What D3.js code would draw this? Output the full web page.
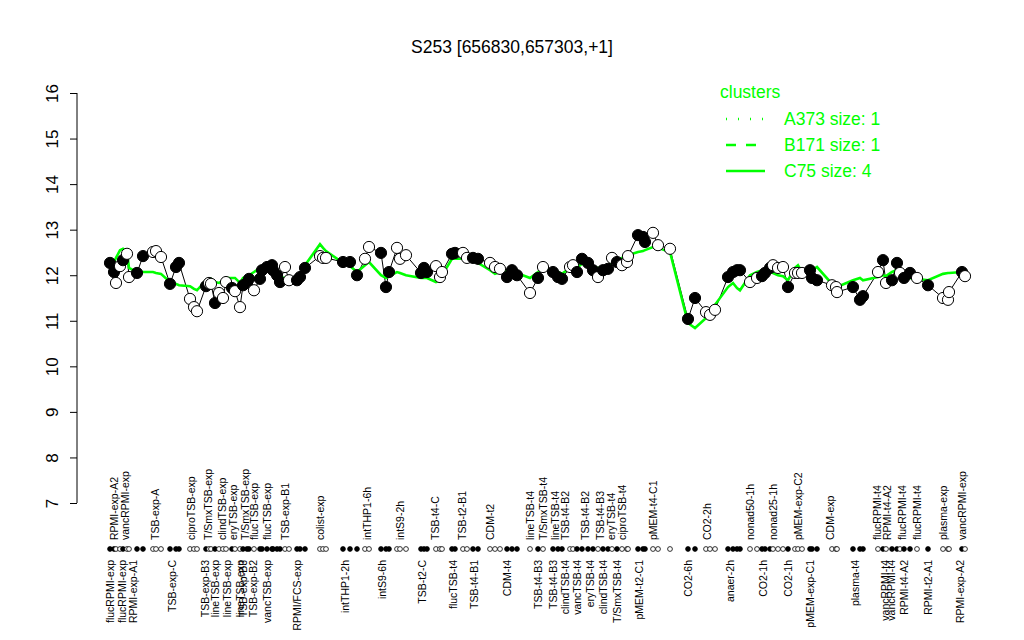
<!DOCTYPE html>
<html><head><meta charset="utf-8">
<script src="https://cdn.jsdelivr.net/npm/d3@7"></script>
<style>body{margin:0;background:#fff}svg{display:block}text{font-family:"Liberation Sans",Arial,sans-serif}</style>
</head><body><svg id="c" width="1024" height="640"></svg>
<script>
const title = "S253 [656830,657303,+1]";
// sample positions along the condition axis
const positions = [10,14,16,20,23,27,29,37,43,53,56,61,70,76,79,90,94,97,106,109,111,115,119,123,126,132,135,140,143,147,149,154,160,162,167,172,173,177,180,185,189,197,200,205,220,223,226,243,250,257,265,269,281,286,289,297,300,306,321,324,327,336,340,342,352,355,363,367,373,378,390,395,400,407,412,417,430,438,443,453,458,462,470,473,477,482,488,493,498,503,508,512,517,522,527,528,538,543,545,553,558,570,588,595,606,610,615,628,633,637,640,650,657,662,665,670,673,678,683,688,695,698,702,710,712,717,732,736,737,753,760,763,778,783,786,792,797,800,804,810,817,828,843,848,849,862,865];
const values = [12.27,12.07,11.83,12.20,12.33,12.47,11.96,12.05,12.42,12.51,12.53,12.40,11.81,12.18,12.27,11.48,11.30,11.21,11.76,11.83,11.81,11.39,11.61,11.50,11.85,11.72,11.65,11.30,11.78,11.83,11.92,11.67,11.92,12.11,12.18,12.22,12.11,12.00,11.85,12.18,11.89,11.89,11.96,12.16,12.42,12.38,12.38,12.29,12.29,12.00,12.36,12.62,12.49,11.74,12.07,12.60,12.36,12.44,12.05,12.16,12.07,12.20,11.96,12.07,12.47,12.49,12.49,12.38,12.38,12.36,12.27,12.18,12.14,11.96,12.11,12.00,11.61,11.94,12.18,12.07,11.96,11.92,12.18,12.22,12.07,12.36,12.27,12.11,11.96,12.11,12.14,12.38,12.29,12.22,12.29,12.42,12.88,12.84,12.73,12.93,12.66,12.58,11.04,11.50,11.19,11.13,11.24,11.96,12.07,12.11,12.11,11.85,11.94,11.98,12.05,12.16,12.22,12.16,12.18,11.74,12.05,12.05,12.05,12.11,11.94,11.89,11.78,11.74,11.63,11.74,11.46,11.54,12.07,12.33,11.83,11.89,12.27,12.05,11.94,12.05,11.94,11.78,11.50,11.46,11.63,12.07,11.98];
const filled = [1,1,0,0,1,0,0,1,1,0,0,0,1,1,1,0,0,0,1,0,0,1,0,0,0,1,0,0,1,1,1,0,1,1,1,1,1,1,1,0,0,1,1,1,0,0,0,1,1,1,0,0,1,1,1,0,0,0,1,1,1,0,0,0,1,1,0,0,1,1,0,0,0,1,1,1,0,1,0,1,1,1,0,0,1,1,1,1,0,1,1,0,1,0,0,0,1,1,1,0,0,0,1,1,0,0,0,1,1,1,1,0,0,1,1,1,0,0,0,1,0,0,0,1,1,1,0,0,0,1,1,1,0,1,0,1,1,0,1,1,0,1,0,0,0,1,0];
// cluster C75 mean profile
const clusterC75 = [12.16,12.29,12.38,12.55,12.58,12.51,12.16,12.07,12.07,12.07,12.05,12.03,11.85,11.81,11.78,11.76,11.70,11.67,11.89,11.92,11.92,11.85,11.83,11.89,11.94,11.94,11.94,11.83,11.94,11.98,12.00,12.07,12.16,12.18,12.16,12.11,12.09,12.03,11.96,11.94,11.94,11.94,11.98,12.22,12.68,12.60,12.53,12.27,12.20,12.07,12.22,12.29,12.00,11.94,11.98,12.07,12.05,12.00,11.94,11.94,11.94,11.85,11.89,12.00,12.36,12.36,12.36,12.33,12.31,12.27,12.11,12.03,12.07,12.11,12.11,12.05,11.94,12.07,12.16,12.11,12.07,12.03,12.16,12.18,12.16,12.25,12.22,12.18,12.16,12.16,12.20,12.29,12.29,12.38,12.42,12.44,12.51,12.53,12.55,12.62,12.60,12.51,10.95,10.84,11.06,11.10,11.35,11.74,11.83,11.72,11.67,12.00,12.07,12.11,12.11,12.07,12.05,12.00,11.98,11.89,12.16,12.22,12.07,12.07,12.11,12.18,11.81,11.76,11.74,11.89,11.94,11.89,11.96,12.00,11.98,12.07,12.11,12.00,11.89,11.94,11.92,11.89,12.03,12.05,12.05,12.07,12.07];
const yTicks = [7,8,9,10,11,12,13,14,15,16];
const topLabelPos = [14,25,55,91,108,122,133,145,154,167,185,220,267,300,335,362,390,430,443,455,465,485,500,511,522,553,607,650,673,698,730,777,787,802,817,843,862];
const topLabelText = ["RPMI-exp-A2","vancRPMI-exp","TSB-exp-A","ciproTSB-exp","T/SmxTSB-exp","clindTSB-exp","eryTSB-exp","T/SmxTSB-exp","flucTSB-exp","flucTSB-exp","TSB-exp-B1","colist-exp","intTHP1-6h","intS9-2h","TSB-t4-C","TSB-t2-B1","CDM-t2","lineTSB-t4","T/SmxTSB-t4","lineTSB-t4","TSB-t4-B2","TSB-t4-B2","TSB-t4-B3","eryTSB-t4","ciproTSB-t4","pMEM-t4-C1","CO2-2h","nonad50-1h","nonad25-1h","pMEM-exp-C2","CDM-exp","flucRPMI-t4","RPMI-t4-A2","flucRPMI-t4","flucRPMI-t4","plasma-exp","vancRPMI-exp"];
const bottomLabelPos = [10,22,33,72,105,115,127,140,143,153,167,197,245,282,322,353,374,407,438,453,465,477,490,503,517,539,588,630,663,688,710,755,785,791,804,828,860];
const bottomLabelText = ["flucRPMI-exp","flucRPMI-exp","RPMI-exp-A1","TSB-exp-C","TSB-exp-B3","lineTSB-exp","lineTSB-exp","lineTSB-exp","TSB-exp-B3","TSB-exp-B2","vancTSB-exp","RPMI/FCS-exp","intTHP1-2h","intS9-6h","TSB-t2-C","flucTSB-t4","TSB-t4-B1","CDM-t4","TSB-t4-B3","TSB-t4-B3","clindTSB-t4","vancTSB-t4","eryTSB-t4","clindTSB-t4","T/SmxTSB-t4","pMEM-t2-C1","CO2-6h","anaer-2h","CO2-1h","CO2-1h","pMEM-exp-C1","plasma-t4","vancRPMI-t4","vancRPMI-t4","RPMI-t4-A2","RPMI-t2-A1","RPMI-exp-A2"];
const legendTitle = "clusters";
const legendNames = ["A373 size: 1","B171 size: 1","C75 size: 4"];

const GREEN = "#00ff00";
const svg = d3.select("#c");
const x = d3.scaleLinear().domain([0, 870]).range([100, 970]);
const y = d3.scaleLinear().domain([7, 16]).range([503, 93]);

svg.append("text").attr("x", 512).attr("y", 53).attr("text-anchor", "middle")
  .attr("font-size", 17.5).text(title);

// y axis (R style)
const yAxis = svg.append("g").attr("transform", "translate(77,0)")
  .call(d3.axisLeft(y).tickValues(yTicks).tickSize(7).tickFormat(d3.format("d")));
yAxis.select(".domain").attr("d", `M0,${y(7)}V${y(16)}`).attr("stroke", "#000");
yAxis.selectAll(".tick line").attr("stroke", "#000");
yAxis.selectAll(".tick text").attr("font-size", 17).attr("fill", "#000")
  .attr("transform", null).attr("x", null).attr("dy", null)
  .each(function(d){ d3.select(this).attr("transform", `translate(-25,0) rotate(-90)`).attr("text-anchor","middle").attr("dy","0.35em"); });
yAxis.attr("font-family", null);

const pts = positions.map((p, i) => ({p, v: values[i], f: filled[i], c: clusterC75[i]}));

// sample profile line
svg.append("path").datum(pts)
  .attr("d", d3.line().x(d => x(d.p)).y(d => y(d.v)))
  .attr("fill", "none").attr("stroke", "#000").attr("stroke-width", 1);
// cluster line
svg.append("path").datum(pts)
  .attr("d", d3.line().x(d => x(d.p)).y(d => y(d.c)))
  .attr("fill", "none").attr("stroke", GREEN).attr("stroke-width", 2.6);

svg.append("g").selectAll("circle").data(pts).join("circle")
  .attr("cx", d => x(d.p)).attr("cy", d => y(d.v)).attr("r", 5.6)
  .attr("fill", d => d.f ? "#000" : "#fff").attr("stroke", "#000").attr("stroke-width", 1);

// rug
svg.append("g").selectAll("circle").data(pts).join("circle")
  .attr("cx", d => x(d.p)).attr("cy", 549).attr("r", 2.4)
  .attr("fill", d => d.f ? "#000" : "#fff").attr("stroke", "#000").attr("stroke-width", 0.8);

// condition labels
svg.append("g").selectAll("text").data(topLabelPos).join("text")
  .attr("transform", d => `translate(${x(d)},540) rotate(-90)`)
  .attr("dy", "0.35em").attr("text-anchor", "start").attr("font-size", 10.5)
  .text((d, i) => topLabelText[i]);
svg.append("g").selectAll("text").data(bottomLabelPos).join("text")
  .attr("transform", d => `translate(${x(d)},560) rotate(-90)`)
  .attr("dy", "0.35em").attr("text-anchor", "end").attr("font-size", 10.5)
  .text((d, i) => bottomLabelText[i]);

// legend
const lg = svg.append("g");
lg.append("text").attr("x", 720).attr("y", 98).attr("fill", GREEN).attr("font-size", 17.5).text(legendTitle);
const dashes = ["1,11", "10,10", null];
legendNames.forEach((n, i) => {
  const yy = 119 + i * 26;
  lg.append("line").attr("x1", 726).attr("x2", 765).attr("y1", yy).attr("y2", yy)
    .attr("stroke", GREEN).attr("stroke-width", 2.6).attr("stroke-dasharray", dashes[i]);
  lg.append("text").attr("x", 784).attr("y", yy + 6).attr("fill", GREEN).attr("font-size", 17.5).text(n);
});
</script></body></html>
